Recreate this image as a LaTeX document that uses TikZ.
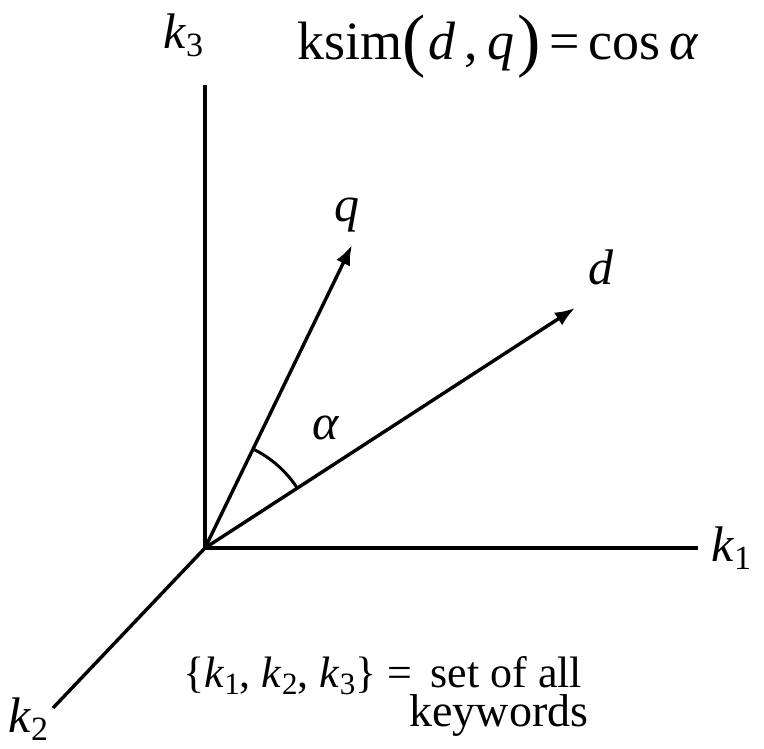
\documentclass[tikz,border=0pt]{standalone}
\usepackage{fontspec}
\setmainfont{Liberation Serif}
\usetikzlibrary{arrows.meta}
\newcommand{\subsc}[1]{{\fontsize{34}{38}\selectfont\raisebox{-8pt}{#1}}}
\newcommand{\subsb}[1]{{\fontsize{31}{34}\selectfont\raisebox{-7pt}{#1}}}
\newcommand{\bigparen}[1]{{\fontsize{70}{74}\selectfont\raisebox{-4pt}{#1}}}
\begin{document}
\begin{tikzpicture}[x=1pt,y=1pt,
  axis/.style={line width=3.4pt},
  vec/.style={line width=3.4pt,-{Latex[length=20pt,width=15pt]}},
  lbl/.style={inner sep=0pt,font=\fontsize{50}{56}\selectfont}]
\useasboundingbox (0,0) rectangle (764,749);
\coordinate (O) at (205,201);
\coordinate (k3end) at (205,664);
\coordinate (k1end) at (698,201);
\coordinate (k2end) at (53,41);
\coordinate (qtip) at (352,504);
\coordinate (dtip) at (575,441);
\draw[axis] (O) -- (k3end);
\draw[axis] (O) -- (k1end);
\draw[axis] (O) -- (k2end);
\draw[vec] (O) -- (qtip);
\draw[vec] (O) -- (dtip);
\draw[line width=3pt] ([shift={(33:110)}]O) arc[start angle=33,end angle=64,radius=110];
\node[lbl,anchor=base west] (k3) at (163,700) {\textit{k}\subsc{3}};
\node[lbl,anchor=base west] (k1) at (711,187) {\textit{k}\subsc{1}};
\node[lbl,anchor=base west] (k2) at (8,16) {\textit{k}\subsc{2}};
\node[lbl,anchor=base] (q) at (347,527) {\textit{q}};
\node[lbl,anchor=base] (d) at (601,464) {\textit{d}};
\node[lbl,anchor=base] (al) at (326,309) {\textit{α}};
\node[inner sep=0pt,anchor=base west,font=\fontsize{54}{60}\selectfont] (f) at (297,689)
  {ksim\bigparen{(}\kern3pt\textit{d}\,,\,\textit{q}\kern3pt\bigparen{)}\,=\,cos\,\textit{α}};
\node[inner sep=0pt,anchor=base west,font=\fontsize{44}{50}\selectfont] (s1) at (183,61)
  {\{\textit{k}\subsb{1}, \textit{k}\subsb{2}, \textit{k}\subsb{3}\} =\, set of all};
\node[inner sep=0pt,anchor=base,font=\fontsize{46}{52}\selectfont] (s2) at (499,22) {keywords};
\end{tikzpicture}
\end{document}
